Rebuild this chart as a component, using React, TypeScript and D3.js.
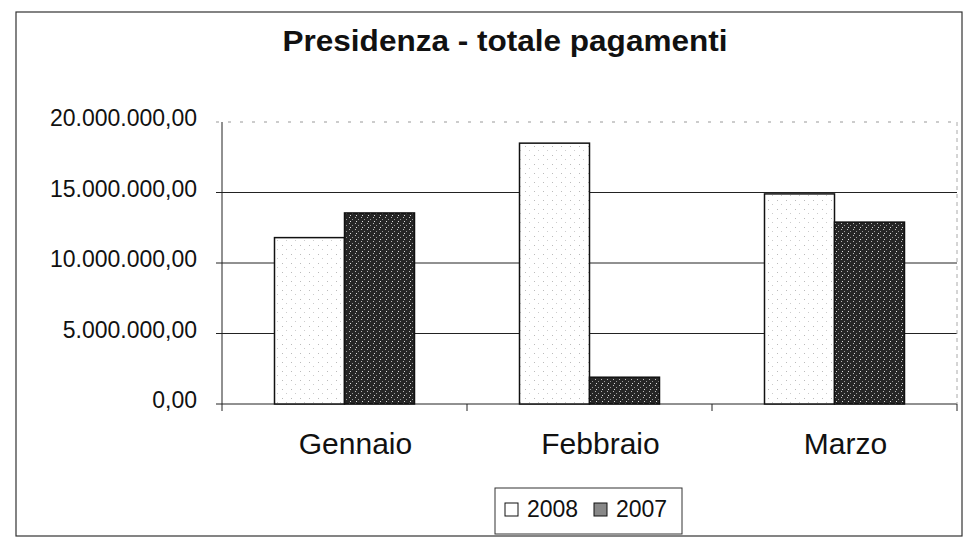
import React from 'react';
import * as d3 from 'd3';

// values
const months = ['Gennaio', 'Febbraio', 'Marzo'];
const series = ['2008', '2007'];
const values2008 = [11800000, 18500000, 14900000];
const values2007 = [13550000, 1900000, 12900000];
const yTicks = [0, 5000000, 10000000, 15000000, 20000000];

const fmt = (v: number) =>
  d3.format(',.2f')(v).replace(/,/g, 'X').replace('.', ',').replace(/X/g, '.');

export default function App() {
  const width = 968;
  const height = 555;
  const plot = { left: 222, right: 957, top: 122, bottom: 404 };

  const x = d3.scaleBand().domain(months).range([plot.left, plot.right]).paddingInner(0).paddingOuter(0);
  const xs = d3.scaleBand().domain(series).range([0, x.bandwidth()]).paddingOuter(0.75).paddingInner(0);
  const y = d3.scaleLinear().domain([0, 20000000]).range([plot.bottom, plot.top]);

  const data = [values2008, values2007];
  const font = 'Arial, "Liberation Sans", sans-serif';

  return (
    <svg width={width} height={height} style={{ position: 'absolute', left: 0, top: 0 }}>
      <defs>
        <pattern id="dark" width="6" height="6" patternUnits="userSpaceOnUse">
          <rect width="6" height="6" fill="#262626" />
          <rect x="1" y="1" width="1" height="1" fill="#bbb" />
          <rect x="4" y="3" width="1" height="1" fill="#999" />
          <rect x="2" y="5" width="1" height="1" fill="#ddd" />
        </pattern>
        <pattern id="light" width="9" height="9" patternUnits="userSpaceOnUse">
          <rect width="9" height="9" fill="#fff" />
          <rect x="3" y="2" width="1" height="1" fill="#bbb" />
          <rect x="7" y="6" width="1" height="1" fill="#ccc" />
        </pattern>
      </defs>
      <rect x={0} y={0} width={width} height={height} fill="#fff" />
      {/* outer frame */}
      <rect x={16} y={12} width={946} height={524} fill="none" stroke="#333" strokeWidth={1.2} />
      <text x={505} y={51} textAnchor="middle" fontFamily={font} fontWeight="bold" fontSize={29}
        textLength={445} lengthAdjust="spacingAndGlyphs" fill="#111">
        Presidenza - totale pagamenti
      </text>

      {/* gridlines */}
      {yTicks.map((t) => (
        <g key={t}>
          <line x1={plot.left - 6} x2={plot.right} y1={y(t)} y2={y(t)}
            stroke={t === 20000000 ? '#999' : '#222'} strokeWidth={1}
            strokeDasharray={t === 20000000 ? '3 9' : undefined} />
          <text x={197} y={y(t) + 4} textAnchor="end" fontFamily={font} fontSize={23} fill="#111">
            {fmt(t)}
          </text>
        </g>
      ))}
      <line x1={plot.left} x2={plot.left} y1={plot.top} y2={plot.bottom} stroke="#222" />
      <line x1={plot.right} x2={plot.right} y1={plot.top} y2={plot.bottom} stroke="#aaa" strokeDasharray="4 4" />

      {/* category ticks */}
      {[...months.map((m) => x(m)!), plot.right].map((px, i) => (
        <line key={i} x1={px} x2={px} y1={plot.bottom} y2={plot.bottom + 7} stroke="#222" />
      ))}

      {/* bars */}
      {months.map((m, i) => (
        <g key={m}>
          {series.map((s, j) => {
            const v = data[j][i];
            return (
              <rect key={s} x={x(m)! + xs(s)!} y={y(v)} width={xs.bandwidth()} height={y(0) - y(v)}
                fill={j === 0 ? 'url(#light)' : 'url(#dark)'} stroke="#111" strokeWidth={1.5} />
            );
          })}
          <text x={x(m)! + x.bandwidth() / 2 + 11} y={454} textAnchor="middle" fontFamily={font} fontSize={30} fill="#111">
            {m}
          </text>
        </g>
      ))}

      {/* legend */}
      <rect x={495} y={488} width={187} height={46} fill="#fff" stroke="#333" />
      {series.map((s, j) => (
        <g key={s} transform={`translate(${505 + j * 89},503)`}>
          <rect x={0} y={0} width={13} height={13} fill={j === 0 ? '#fff' : '#888'} stroke="#111" />
          <text x={22} y={14} fontFamily={font} fontSize={23} fill="#111">{s}</text>
        </g>
      ))}
    </svg>
  );
}
